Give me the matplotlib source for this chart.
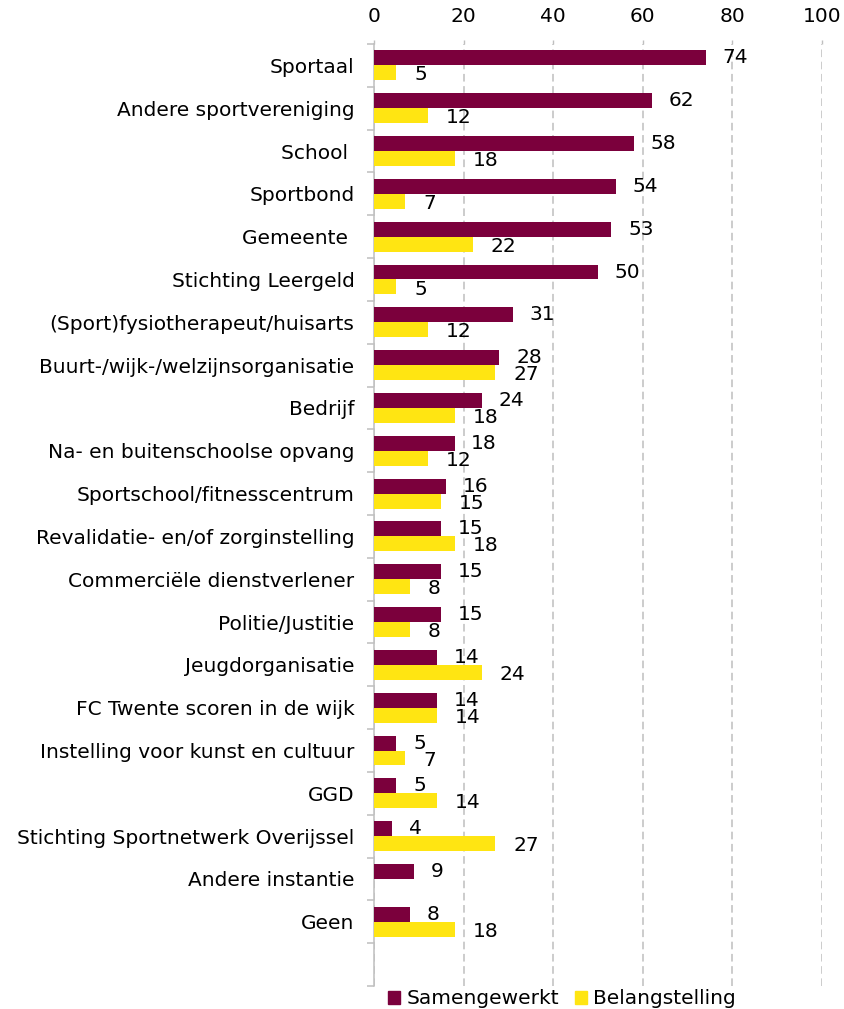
import numpy as np
import matplotlib.pyplot as plt
from matplotlib.patches import Patch

categories = ["Sportaal", "Andere sportvereniging", "School ", "Sportbond", "Gemeente ",
              "Stichting Leergeld", "(Sport)fysiotherapeut/huisarts",
              "Buurt-/wijk-/welzijnsorganisatie", "Bedrijf", "Na- en buitenschoolse opvang",
              "Sportschool/fitnesscentrum", "Revalidatie- en/of zorginstelling",
              "Commerciële dienstverlener", "Politie/Justitie", "Jeugdorganisatie",
              "FC Twente scoren in de wijk", "Instelling voor kunst en cultuur", "GGD",
              "Stichting Sportnetwerk Overijssel", "Andere instantie", "Geen"]
samengewerkt = [74, 62, 58, 54, 53, 50, 31, 28, 24, 18, 16, 15, 15, 15, 14, 14, 5, 5, 4, 9, 8]
belangstelling = [5, 12, 18, 7, 22, 5, 12, 27, 18, 12, 15, 18, 8, 8, 24, 14, 7, 14, 27, None, 18]

maroon = "#7B003C"
yellow = "#FFE512"
grey = "#BFBFBF"
fs = 14.5

plt.rcParams['font.family'] = ['DejaVu Sans']
fig = plt.figure(figsize=(8.44, 10.09), dpi=100)
ax = fig.add_axes([374 / 844, 1 - 986 / 1009, 448 / 844, 942 / 1009])

y = np.arange(len(categories))
h = 0.35
ax.barh(y - h / 2, samengewerkt, height=h, color=maroon, zorder=3)
bel_vals = [v if v is not None else 0 for v in belangstelling]
ax.barh(y + h / 2, bel_vals, height=h, color=yellow, zorder=3)

for i, v in enumerate(samengewerkt):
    ax.annotate(str(v), (v, i - h / 2), xytext=(12, 0), textcoords="offset points",
                ha="left", va="center", fontsize=fs, color="black")
for i, v in enumerate(belangstelling):
    if v is None:
        continue
    ax.annotate(str(v), (v, i + h / 2), xytext=(13, -1.5), textcoords="offset points",
                ha="left", va="center", fontsize=fs, color="black")

ax.set_xlim(0, 100)
ax.set_ylim(len(categories) + 0.5, -0.5)
ax.xaxis.tick_top()
ax.set_xticks(range(0, 101, 20))
ax.tick_params(axis="x", top=True, length=3, color=grey, width=1, labelsize=fs, pad=10)
ax.grid(axis="x", color=grey, linestyle=(0, (5, 3)), linewidth=1.1, zorder=0)

ax.set_yticks(y)
ax.set_yticklabels(categories, fontsize=fs)
ax.set_yticks(np.arange(-0.5, len(categories) + 0.6, 1), minor=True)
ax.tick_params(axis="y", which="major", length=0, pad=14)
ax.tick_params(axis="y", which="minor", length=5, color=grey, width=1.1)

for s in ["top", "right", "bottom"]:
    ax.spines[s].set_visible(False)
ax.spines["left"].set_color(grey)
ax.spines["left"].set_linewidth(1.1)

handles = [Patch(color=maroon, label="Samengewerkt"), Patch(color=yellow, label="Belangstelling")]
fig.legend(handles=handles, loc="center left", bbox_to_anchor=(380 / 844, 1 - 999 / 1009),
           ncol=2, frameon=False, fontsize=fs, handlelength=0.6, handleheight=0.6,
           handletextpad=0.3, columnspacing=0.8, borderaxespad=0)

fig.savefig("out.png", dpi=100)
